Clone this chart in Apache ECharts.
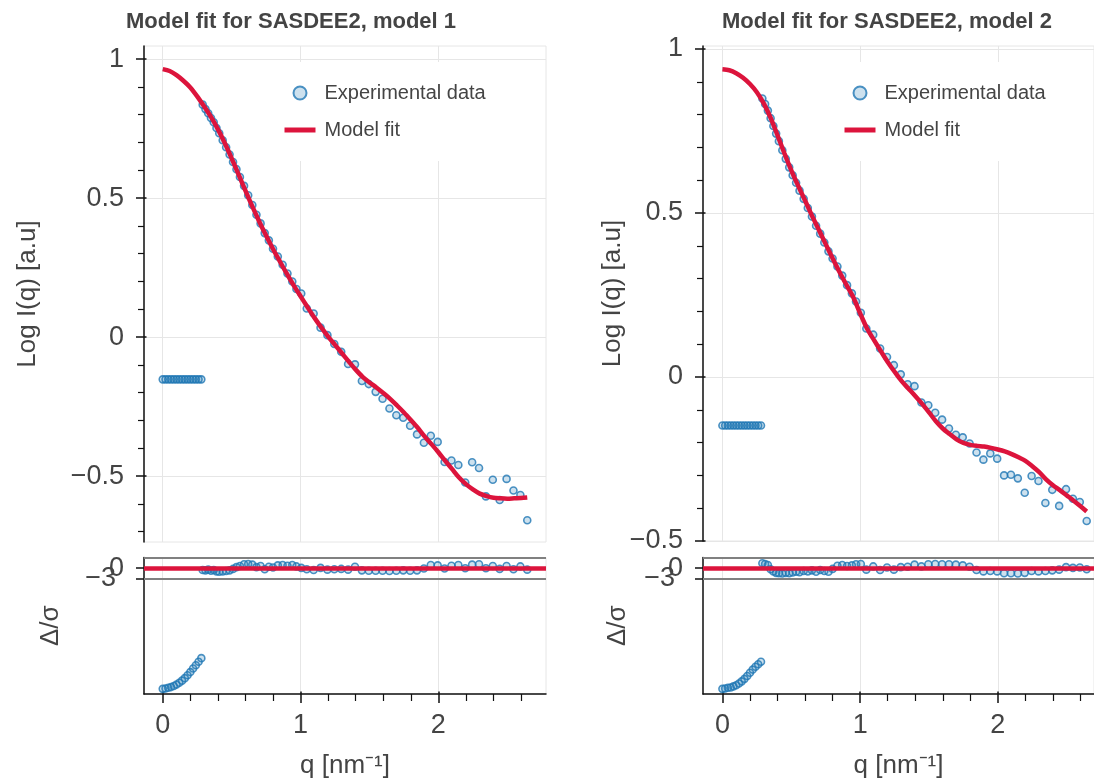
<!DOCTYPE html>
<html>
<head>
<meta charset="utf-8">
<script src="https://cdn.jsdelivr.net/npm/echarts@6/dist/echarts.min.js"></script>
<style>
  html, body { margin: 0; padding: 0; background: #fff; }
  #chart { width: 1094px; height: 782px; }
</style>
</head>
<body>
<div id="chart"></div>
<script>
// Scattering vector q [nm^-1] of the measured points (first 15 are the masked low-q block)
const q = [
  0, 0.02, 0.04, 0.06, 0.08, 0.10, 0.12, 0.14, 0.16, 0.18, 0.20, 0.22, 0.24, 0.26, 0.28,
  0.29, 0.31, 0.33, 0.35, 0.37, 0.39, 0.41, 0.435, 0.46, 0.485, 0.51, 0.535, 0.56,
  0.59, 0.62, 0.65, 0.68, 0.71, 0.74, 0.77, 0.80, 0.835, 0.87, 0.905, 0.94, 0.97,
  1.005, 1.045, 1.095, 1.145, 1.195, 1.245, 1.295, 1.345, 1.395, 1.445, 1.495, 1.545,
  1.595, 1.645, 1.695, 1.745, 1.795, 1.845, 1.895, 1.945, 1.995, 2.045, 2.095, 2.145,
  2.195, 2.245, 2.295, 2.345, 2.395, 2.445, 2.495, 2.545, 2.595, 2.645
];

// Model 1: experimental log intensity and normalised residuals
const logI1 = [
  -0.152, -0.152, -0.152, -0.152, -0.152, -0.152, -0.152, -0.152, -0.152, -0.152, -0.152, -0.152, -0.152, -0.152, -0.152,
  0.836, 0.820, 0.805, 0.788, 0.773, 0.752, 0.733, 0.708, 0.683, 0.657, 0.630, 0.604, 0.576,
  0.544, 0.510, 0.475, 0.440, 0.409, 0.374, 0.348, 0.318, 0.290, 0.260, 0.229, 0.200, 0.173,
  0.157, 0.103, 0.085, 0.034, 0.007, -0.025, -0.053, -0.097, -0.098, -0.158, -0.169, -0.197,
  -0.222, -0.257, -0.281, -0.290, -0.319, -0.350, -0.380, -0.355, -0.377, -0.449, -0.444, -0.460,
  -0.523, -0.450, -0.471, -0.573, -0.513, -0.586, -0.510, -0.552, -0.568, -0.659
];
const resid1 = [
  -33.8, -33.7, -33.5, -33.3, -33.0, -32.6, -32.1, -31.5, -30.8, -30.0, -29.1, -28.1, -27.2, -26.2, -25.2,
  -0.5, -0.6, -0.4, -0.7, -0.5, -0.9, -1.0, -0.9, -0.8, -0.6, -0.2, 0.3, 0.6,
  1.1, 1.2, 1.0, 0.3, 0.6, -0.3, 0.4, 0.2, 0.8, 0.9, 0.7, 0.9, 0.5,
  0.1, -0.3, -0.5, 0.1, -0.4, -0.3, -0.2, -0.4, 0.4, -0.6, -0.7, -0.7,
  -0.7, -0.8, -0.7, -0.6, -0.7, -0.6, -0.1, 0.9, 0.8, -0.1, 0.7, 0.9,
  0.0, 1.0, 1.1, 0.0, 0.6, -0.2, 0.6, -0.3, 0.5, -0.4
];

// Model 2: experimental log intensity and normalised residuals
const logI2 = [
  -0.148, -0.148, -0.148, -0.148, -0.148, -0.148, -0.148, -0.148, -0.148, -0.148, -0.148, -0.148, -0.148, -0.148, -0.148,
  0.849, 0.832, 0.812, 0.789, 0.765, 0.742, 0.719, 0.691, 0.665, 0.639, 0.615, 0.592, 0.568,
  0.543, 0.515, 0.489, 0.461, 0.437, 0.410, 0.383, 0.361, 0.337, 0.309, 0.280, 0.255, 0.230,
  0.196, 0.148, 0.129, 0.087, 0.061, 0.036, 0.008, -0.022, -0.028, -0.078, -0.086, -0.109,
  -0.130, -0.157, -0.176, -0.184, -0.203, -0.230, -0.252, -0.233, -0.249, -0.300, -0.298, -0.309,
  -0.353, -0.302, -0.317, -0.384, -0.344, -0.393, -0.342, -0.371, -0.381, -0.439
];
const resid2 = [
  -33.8, -33.7, -33.5, -33.4, -33.1, -32.8, -32.3, -31.7, -31.0, -30.2, -29.3, -28.4, -27.6, -26.9, -26.2,
  1.4, 1.2, 0.9, -0.3, -0.9, -1.3, -1.4, -1.5, -1.3, -1.4, -1.2, -1.0, -1.1,
  -0.8, -0.9, -0.6, -1.0, -0.5, -0.8, -1.0, -0.2, 0.7, 0.9, 0.6, 0.8, 1.1,
  1.2, -0.4, 0.5, -0.5, 0.2, -0.4, 0.3, 0.4, 1.0, 0.5, 1.1, 1.2,
  1.1, 1.1, 1.0, 0.8, 0.4, -0.5, -0.9, -0.8, -0.9, -1.4, -1.4, -1.5,
  -1.3, -0.8, -0.9, -0.8, -0.6, -0.4, 0.3, 0.1, 0.2, -0.3
];

// Model curves sampled on a common q grid
const qModel = [
  0, 0.05, 0.10, 0.15, 0.20, 0.25, 0.30, 0.35, 0.40, 0.45, 0.50, 0.55, 0.60, 0.65, 0.70,
  0.75, 0.80, 0.85, 0.90, 0.95, 1.00, 1.05, 1.10, 1.15, 1.20, 1.25, 1.30, 1.35, 1.40,
  1.45, 1.50, 1.55, 1.60, 1.65, 1.70, 1.75, 1.80, 1.85, 1.90, 1.95, 2.00, 2.05, 2.10,
  2.15, 2.20, 2.25, 2.30, 2.35, 2.40, 2.45, 2.50, 2.55, 2.60, 2.645
];
const fit1 = [
  0.964, 0.957, 0.942, 0.922, 0.898, 0.866, 0.830, 0.792, 0.748, 0.698, 0.643, 0.585, 0.527, 0.470, 0.416,
  0.365, 0.317, 0.272, 0.228, 0.186, 0.147, 0.108, 0.070, 0.035, 0.002, -0.028, -0.058, -0.088, -0.117,
  -0.143, -0.163, -0.181, -0.201, -0.222, -0.246, -0.271, -0.298, -0.326, -0.357, -0.385, -0.414, -0.445, -0.475,
  -0.505, -0.529, -0.548, -0.563, -0.572, -0.578, -0.580, -0.581, -0.580, -0.579, -0.577
];
const fit2 = [
  0.938, 0.935, 0.926, 0.912, 0.893, 0.868, 0.834, 0.790, 0.737, 0.682, 0.630, 0.583, 0.538, 0.492, 0.449,
  0.405, 0.362, 0.320, 0.281, 0.243, 0.194, 0.148, 0.113, 0.079, 0.046, 0.016, -0.012, -0.035, -0.058,
  -0.082, -0.108, -0.135, -0.157, -0.174, -0.190, -0.201, -0.207, -0.210, -0.212, -0.216, -0.221, -0.227, -0.235,
  -0.245, -0.256, -0.272, -0.290, -0.312, -0.330, -0.345, -0.361, -0.377, -0.394, -0.410
];

// Tick values
const xTicks = [0, 1, 2];
const xMinorTicks = [0.2, 0.4, 0.6, 0.8, 1.2, 1.4, 1.6, 1.8, 2.2, 2.4, 2.6];
const yTicksMain = [-0.5, 0, 0.5, 1];
const yMinorLeft = [-0.7, -0.6, -0.4, -0.3, -0.2, -0.1, 0.1, 0.2, 0.3, 0.4, 0.6, 0.7, 0.8, 0.9];
const yMinorRight = [-0.4, -0.3, -0.2, -0.1, 0.1, 0.2, 0.3, 0.4, 0.6, 0.7, 0.8, 0.9];
const yTicksResid = [-3, 0];
const sigmaBounds = [-3, 3];

const titles = ['Model fit for SASDEE2, model 1', 'Model fit for SASDEE2, model 2'];
const logI = [logI1, logI2];
const resid = [resid1, resid2];
const fits = [fit1, fit2];

const FONT = '"Liberation Sans", Arial, Helvetica, sans-serif';
const TXT = '#444444';
const BLUE = '#1f77b4';
const RED = '#dc143c';
const GRID = '#e6e6e6';
const AXIS = '#111111';
const fmt = v => (v < 0 ? '\u2212' : '') + Math.abs(v);

// Layout of the two panels (main plot on top, residual strip below)
const panels = [
  { left: 144, width: 402, mainHeight: 496, xMin: -0.136, xMax: 2.781, yMin: -0.737, yMax: 1.047,
    yMinor: yMinorLeft, titleX: 286, legendX: 270, mainNameGap: 103, resNameGap: 80 },
  { left: 703, width: 391, mainHeight: 495, xMin: -0.141, xMax: 2.698, yMin: -0.5, yMax: 1.009,
    yMinor: yMinorRight, titleX: 882, legendX: 830, mainNameGap: 68, resNameGap: 72 }
];
const MAIN_TOP = 46;
const RES_TOP = 557.5;
const RES_HEIGHT = 136.5;
const RES_MIN = -35.24;
const RES_MAX = 3;

function blankAxis(extra) {
  return Object.assign({
    type: 'value',
    axisLine: { show: false, onZero: false },
    axisTick: { show: false },
    axisLabel: { show: false },
    splitLine: { show: false }
  }, extra);
}

const grid = [];
const xAxis = [];
const yAxis = [];
const series = [];
const title = [];
const legend = [];

panels.forEach((p, i) => {
  const gMain = 2 * i, gRes = 2 * i + 1;
  grid.push({ left: p.left, top: MAIN_TOP, width: p.width, height: p.mainHeight,
              show: true, borderColor: GRID, borderWidth: 1 });
  grid.push({ left: p.left, top: RES_TOP, width: p.width, height: RES_HEIGHT,
              show: true, borderColor: GRID, borderWidth: 1 });

  const xb = xAxis.length, yb = yAxis.length;

  // x axes: main (grid only), residual (line + labels), residual minor ticks, residual inner ticks
  xAxis.push(blankAxis({ gridIndex: gMain, position: 'bottom', min: p.xMin, max: p.xMax, splitNumber: 3,
    axisTick: { show: false, customValues: xTicks },
    splitLine: { show: true, lineStyle: { color: GRID, width: 1 } } }));
  xAxis.push(blankAxis({ gridIndex: gRes, position: 'bottom', min: p.xMin, max: p.xMax, splitNumber: 3,
    axisLine: { show: true, onZero: false, lineStyle: { color: AXIS, width: 1.5 } },
    axisTick: { show: true, length: 9, customValues: xTicks, lineStyle: { color: AXIS, width: 1.5 } },
    axisLabel: { show: true, customValues: xTicks, formatter: fmt, fontSize: 27, color: TXT,
                 fontFamily: FONT, margin: 18, hideOverlap: false },
    splitLine: { show: true, lineStyle: { color: GRID, width: 1 } },
    name: 'q [nm\u207B\u00B9]', nameLocation: 'middle', nameGap: 59,
    nameTextStyle: { fontSize: 26, color: TXT, fontFamily: FONT } }));
  xAxis.push(blankAxis({ gridIndex: gRes, position: 'bottom', min: p.xMin, max: p.xMax,
    axisTick: { show: true, length: 7, customValues: xMinorTicks, lineStyle: { color: AXIS, width: 1.2 } } }));
  xAxis.push(blankAxis({ gridIndex: gRes, position: 'bottom', min: p.xMin, max: p.xMax,
    axisTick: { show: true, inside: true, length: 2.5, customValues: xTicks, lineStyle: { color: AXIS, width: 1.5 } } }));

  // y axes: main, main minor ticks, main inner ticks, residual (ticks + "0"), residual inner ticks + "-3"
  yAxis.push(blankAxis({ gridIndex: gMain, position: 'left', min: p.yMin, max: p.yMax, splitNumber: 4,
    axisLine: { show: true, onZero: false, lineStyle: { color: AXIS, width: 1.5 } },
    axisTick: { show: true, length: 8, customValues: yTicksMain, lineStyle: { color: AXIS, width: 1.5 } },
    axisLabel: { show: true, customValues: yTicksMain, formatter: fmt, fontSize: 27, color: TXT,
                 fontFamily: FONT, margin: 20, hideOverlap: false },
    splitLine: { show: true, lineStyle: { color: GRID, width: 1 } },
    name: 'Log I(q) [a.u]', nameLocation: 'middle', nameGap: p.mainNameGap,
    nameTextStyle: { fontSize: 26, color: TXT, fontFamily: FONT } }));
  yAxis.push(blankAxis({ gridIndex: gMain, position: 'left', min: p.yMin, max: p.yMax,
    axisTick: { show: true, length: 6, customValues: p.yMinor, lineStyle: { color: AXIS, width: 1.2 } } }));
  yAxis.push(blankAxis({ gridIndex: gMain, position: 'left', min: p.yMin, max: p.yMax,
    axisTick: { show: true, inside: true, length: 2.5, customValues: yTicksMain, lineStyle: { color: AXIS, width: 1.5 } } }));
  yAxis.push(blankAxis({ gridIndex: gRes, position: 'left', min: RES_MIN, max: RES_MAX,
    axisLine: { show: true, onZero: false, lineStyle: { color: AXIS, width: 1.5 } },
    axisTick: { show: true, length: 8, customValues: yTicksResid, lineStyle: { color: AXIS, width: 1.5 } },
    axisLabel: { show: true, customValues: yTicksResid.filter(v => v >= 0), formatter: fmt, fontSize: 27,
                 color: TXT, fontFamily: FONT, margin: 20, hideOverlap: false },
    name: '\u0394/\u03C3', nameLocation: 'middle', nameGap: p.resNameGap,
    nameTextStyle: { fontSize: 26, color: TXT, fontFamily: FONT } }));
  yAxis.push(blankAxis({ gridIndex: gRes, position: 'left', min: RES_MIN, max: RES_MAX,
    axisTick: { show: true, inside: true, length: 2.5, customValues: yTicksResid, lineStyle: { color: AXIS, width: 1.5 } },
    axisLabel: { show: true, customValues: yTicksResid.filter(v => v < 0), formatter: fmt, fontSize: 27,
                 color: TXT, fontFamily: FONT, margin: 28, hideOverlap: false } }));

  const pointStyle = { color: 'rgba(31,119,180,0.28)', borderColor: BLUE, borderWidth: 1.6 };

  series.push({
    type: 'scatter', name: 'Experimental data', xAxisIndex: xb, yAxisIndex: yb,
    data: q.map((x, k) => [x, logI[i][k]]),
    symbol: 'circle', symbolSize: 7, itemStyle: pointStyle, z: 2
  });
  series.push({
    type: 'line', name: 'Model fit', xAxisIndex: xb, yAxisIndex: yb,
    data: qModel.map((x, k) => [x, fits[i][k]]),
    smooth: 0.3, symbol: 'none', lineStyle: { color: RED, width: 4.5 },
    itemStyle: { color: RED }, z: 3
  });
  series.push({
    type: 'scatter', name: 'Residuals', xAxisIndex: xb + 1, yAxisIndex: yb + 3,
    data: q.map((x, k) => [x, resid[i][k]]),
    symbol: 'circle', symbolSize: 7, itemStyle: pointStyle, z: 2,
    markLine: {
      silent: true, symbol: 'none', label: { show: false }, z: 4,
      data: sigmaBounds.map(v => ({ yAxis: v, lineStyle: { color: '#808080', width: 2, type: 'solid' } }))
        .concat([{ yAxis: 0, lineStyle: { color: RED, width: 4.5, type: 'solid' } }])
    }
  });

  title.push({
    text: titles[i], left: p.titleX, top: 6, textAlign: 'center',
    textStyle: { fontSize: 22, fontWeight: 'bold', color: TXT, fontFamily: FONT }
  });

  legend.push({
    left: p.legendX, top: 62, orient: 'vertical',
    padding: [21, 14, 21, 12], backgroundColor: '#ffffff',
    itemWidth: 31, itemHeight: 13, itemGap: 17,
    textStyle: { fontSize: 20, color: TXT, fontFamily: FONT, lineHeight: 20, padding: [0, 0, 0, 4] },
    data: [
      { name: 'Experimental data', icon: 'circle' },
      { name: 'Model fit', itemStyle: { opacity: 0 }, lineStyle: { color: RED, width: 5 } }
    ],
    selectedMode: false
  });
});

const chart = echarts.init(document.getElementById('chart'), null, { renderer: 'canvas' });
chart.setOption({
  animation: false,
  backgroundColor: '#ffffff',
  textStyle: { fontFamily: FONT },
  title, legend, grid, xAxis, yAxis, series
});
</script>
</body>
</html>
